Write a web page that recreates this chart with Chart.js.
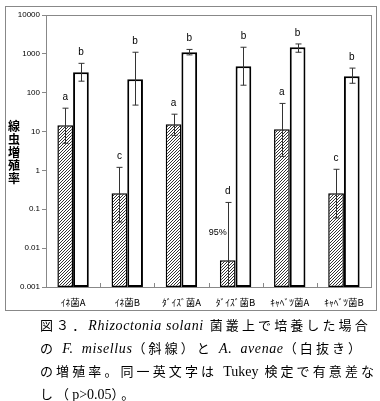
<!DOCTYPE html>
<html>
<head>
<meta charset="utf-8">
<script src="https://cdn.jsdelivr.net/npm/chart.js@4.4.0/dist/chart.umd.min.js"></script>
<style>
  body { margin: 0; background: #fff; }
  #wrap { position: relative; width: 380px; height: 401px; overflow: hidden; }
  #chart { position: absolute; left: 0; top: 0; }
  #caption {
    position: absolute; left: 40px; top: 313px;
    font-family: "Noto Sans CJK JP", sans-serif;
    font-size: 13px; letter-spacing: 3.1px;
    color: #000; white-space: nowrap;
  }
  #caption div { height: 23px; line-height: 23px; overflow: visible; }
  #caption i { font-family: "Liberation Serif", serif; font-size: 14px; letter-spacing: 0.6px; }
  #caption .lat { font-family: "Liberation Serif", serif; letter-spacing: 0; font-size: 14px; }
</style>
</head>
<body>
<div id="wrap">
  <canvas id="chart" width="380" height="318"></canvas>
  <div id="caption">
    <div>図３．<i>Rhizoctonia solani</i> 菌叢上で培養した場合</div>
    <div>の <i>F. &nbsp;misellus</i>（斜線）と <i>A. &nbsp;avenae</i>（白抜き）</div>
    <div>の増殖率。同一英文字は <span class="lat">Tukey</span> 検定で有意差な</div>
    <div>し（<span class="lat">p&gt;0.05</span>）。</div>
  </div>
</div>
<script>
// categories (half-width katakana as in the original)
var categories = ["ｲﾈ菌A", "ｲﾈ菌B", "ﾀﾞｲｽﾞ菌A", "ﾀﾞｲｽﾞ菌B", "ｷｬﾍﾞﾂ菌A", "ｷｬﾍﾞﾂ菌B"];

// F. misellus (hatched)
var misellus = [14.6, 0.26, 15.5, 0.0049, 11.5, 0.26];
var misellusHigh = [40, 1.2, 28, 0.15, 53, 1.07];
var misellusLow = [5, 0.047, 8, 0.0001, 2.3, 0.06];
var misellusLetters = ["a", "c", "a", "d", "a", "c"];

// A. avenae (white)
var avenae = [336, 222, 1100, 480, 1480, 265];
var avenaeHigh = [570, 1100, 1300, 1480, 1800, 430];
var avenaeLow = [198, 48, 940, 156, 1100, 175];
var avenaeLetters = ["b", "b", "b", "b", "b", "b"];

var yTicks = [0.001, 0.01, 0.1, 1, 10, 100, 1000, 10000];
var yTitle = "線虫増殖率";

// diagonal hatch pattern
function hatch(){
    var c = document.createElement("canvas");
    c.width = 3; c.height = 3;
    var g = c.getContext("2d");
    g.fillStyle = "#fff";
    g.fillRect(0, 0, 3, 3);
    g.fillStyle = "#333";
    g.fillRect(2, 0, 1, 1);
    g.fillRect(1, 1, 1, 1);
    g.fillRect(0, 2, 1, 1);
    return g.createPattern(c, "repeat");
}

var ctx = document.getElementById("chart").getContext("2d");

var errs = [
    {high: misellusHigh, low: misellusLow, letters: misellusLetters},
    {high: avenaeHigh, low: avenaeLow, letters: avenaeLetters}
];

// error bars, letters, frames
var overlay = {
    id: "overlay",
    beforeDraw: function(chart){
        var c = chart.ctx;
        c.save();
        c.strokeStyle = "#888";
        c.lineWidth = 1;
        c.strokeRect(5.5, 6.5, 371, 304);
        c.restore();
    },
    afterDatasetsDraw: function(chart){
        var c = chart.ctx;
        var a = chart.chartArea;
        var ys = chart.scales.y;
        var xs = chart.scales.x;
        c.save();
        // plot area border
        c.strokeStyle = "#888";
        c.lineWidth = 1;
        c.strokeRect(a.left + 0.5, a.top + 0.5, a.right - a.left, a.bottom - a.top);
        // category boundary ticks (inside)
        for (var k = 0; k < categories.length - 1; k++){
            var bx = Math.round((xs.getPixelForValue(k) + xs.getPixelForValue(k + 1)) / 2) + 0.5;
            c.beginPath();
            c.moveTo(bx, a.bottom);
            c.lineTo(bx, a.bottom - 4);
            c.stroke();
        }
        // error bars
        c.beginPath();
        c.rect(a.left, a.top, a.right - a.left, a.bottom - a.top);
        c.clip();
        c.strokeStyle = "#333";
        c.lineWidth = 1;
        for (var i = 0; i < errs.length; i++){
            var meta = chart.getDatasetMeta(i);
            for (var j = 0; j < meta.data.length; j++){
                var x = Math.round(meta.data[j].x) + 0.5;
                var yh = ys.getPixelForValue(errs[i].high[j]);
                var yl = ys.getPixelForValue(errs[i].low[j]);
                c.beginPath();
                c.moveTo(x, yh); c.lineTo(x, yl);
                c.moveTo(x - 3, yh); c.lineTo(x + 3, yh);
                c.moveTo(x - 3, yl); c.lineTo(x + 3, yl);
                c.stroke();
            }
        }
        c.restore();
        // letters
        c.save();
        c.fillStyle = "#000";
        c.font = "10px 'Liberation Sans', Arial, sans-serif";
        c.textAlign = "center";
        c.textBaseline = "middle";
        for (var i = 0; i < errs.length; i++){
            var meta = chart.getDatasetMeta(i);
            for (var j = 0; j < meta.data.length; j++){
                var yh = ys.getPixelForValue(errs[i].high[j]);
                c.fillText(errs[i].letters[j], meta.data[j].x, yh - 11);
            }
        }
        // 95% note beside the d error bar
        var el = chart.getDatasetMeta(0).data[3];
        var yTop = ys.getPixelForValue(misellusHigh[3]);
        c.textAlign = "right";
        c.font = "9px 'Liberation Sans', Arial, sans-serif";
        c.fillText("95%", el.x - 1, (yTop + el.y) / 2 + 1);
        // y title, stacked upright
        c.textAlign = "center";
        c.font = "bold 12px 'Noto Sans CJK JP', sans-serif";
        for (var n = 0; n < yTitle.length; n++){
            c.fillText(yTitle[n], 14, 126 + n * 13);
        }
        c.restore();
    }
};

var chart = new Chart(ctx, {
    type: "bar",
    data: {
        labels: categories,
        datasets: [
        {
            label: "F. misellus",
            data: misellus,
            backgroundColor: hatch(),
            borderColor: "#000",
            borderWidth: 1.5,
            borderSkipped: false
        },
        {
            label: "A. avenae",
            data: avenae,
            backgroundColor: "#fff",
            borderColor: "#000",
            borderWidth: 2,
            borderSkipped: false
        }]
    },
    options: {
        responsive: false,
        animation: false,
        events: [],
        layout: { padding: { left: 0, top: 15, right: 9, bottom: 0 } },
        datasets: { bar: { categoryPercentage: 0.58, barPercentage: 1.0 } },
        plugins: { legend: { display: false }, tooltip: { enabled: false } },
        scales: {
            x: {
                grid: { display: false, drawTicks: false },
                border: { display: false },
                ticks: {
                    color: "#000",
                    padding: 10,
                    maxRotation: 0,
                    autoSkip: false,
                    font: { family: "'Noto Sans CJK JP', sans-serif", size: 9.5 }
                },
                afterFit: function(scale){ scale.height = 31; }
            },
            y: {
                type: "logarithmic",
                min: 0.001,
                max: 10000,
                grid: { drawOnChartArea: false, tickLength: 4, color: "#888" },
                border: { color: "#888" },
                ticks: {
                    color: "#000",
                    padding: 2,
                    font: { family: "'Liberation Sans', Arial, sans-serif", size: 8 },
                    callback: function(v){ return String(v); }
                },
                afterBuildTicks: function(scale){
                    scale.ticks = yTicks.map(function(v){ return {value: v}; });
                },
                afterFit: function(scale){ scale.width = 46; }
            }
        }
    },
    plugins: [overlay]
});
</script>
</body>
</html>
